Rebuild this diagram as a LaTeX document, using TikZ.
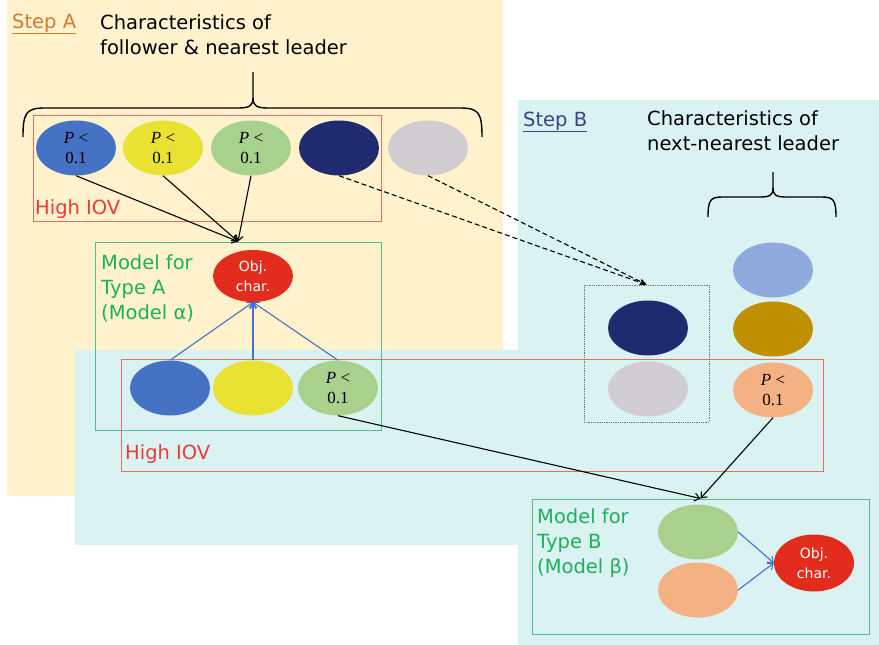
\documentclass[tikz,border=0pt]{standalone}
\usepackage{fontspec}
\setmainfont{Liberation Serif}
\newfontfamily\dv{DejaVu Sans}
\usetikzlibrary{shapes.geometric,arrows.meta}
\definecolor{peachbg}{RGB}{255,242,204}
\definecolor{cyanbg}{RGB}{218,243,242}
\definecolor{blueE}{RGB}{70,114,196}
\definecolor{yellowE}{RGB}{234,226,50}
\definecolor{greenE}{RGB}{169,209,142}
\definecolor{navyE}{RGB}{32,42,110}
\definecolor{grayE}{RGB}{208,206,208}
\definecolor{lblueE}{RGB}{143,170,220}
\definecolor{goldE}{RGB}{191,144,0}
\definecolor{orangeE}{RGB}{244,177,131}
\definecolor{redE}{RGB}{226,45,30}
\definecolor{redbox}{RGB}{240,105,95}
\definecolor{greenbox}{RGB}{80,190,145}
\definecolor{greentext}{RGB}{30,175,90}
\definecolor{iovtext}{RGB}{232,60,55}
\definecolor{stepAcol}{RGB}{215,120,45}
\definecolor{stepBcol}{RGB}{50,70,140}
\tikzset{
  ell/.style={ellipse, minimum width=80pt, minimum height=55pt, inner sep=0pt, draw=none, align=center,
    font=\fontsize{17}{20}\selectfont},
  objell/.style={ell, fill=redE, text=white, font=\dv\fontsize{14}{20}\selectfont},
  redframe/.style={draw=redbox, line width=1pt, inner sep=0pt},
  greenframe/.style={draw=greenbox, line width=1pt, inner sep=0pt},
  bigtext/.style={font=\dv\fontsize{19.5}{25}\selectfont, align=left, inner sep=0pt},
  blackarrow/.style={line width=1.1pt, -{Straight Barb[length=5pt,width=8pt]}},
  bluearrow/.style={draw=blueE, line width=1.1pt, -{Straight Barb[length=5pt,width=8pt]}},
  dasharrow/.style={line width=1.1pt, dash pattern=on 5pt off 3pt, -{Stealth[length=7pt,width=6pt]}},
  bracepath/.style={line width=1.4pt}
}
\begin{document}
\begin{tikzpicture}[x=1pt,y=-1pt]
\useasboundingbox (0,0) rectangle (879,645);
% backgrounds
\fill[peachbg] (7,0) rectangle (503,496);
\fill[cyanbg] (518,100) rectangle (879,645);
\fill[cyanbg] (75,350) rectangle (519,545);

% frames
\node[redframe, minimum width=348pt, minimum height=106pt] (iovA) at (207,168) {};
\node[greenframe, minimum width=286pt, minimum height=188pt] (boxA) at (238,336) {};
\node[redframe, minimum width=702pt, minimum height=112pt] (iovB) at (472,415) {};
\node[greenframe, minimum width=337pt, minimum height=135pt] (boxB) at (700.5,566.5) {};
\node[draw=black!55, line width=0.8pt, densely dotted, minimum width=125pt, minimum height=137pt, inner sep=0pt] (dbox) at (646.5,353.5) {};

% top row ellipses
\node[ell, fill=blueE] (a1) at (76,148) {\textit{P} <\\0.1};
\node[ell, fill=yellowE] (a2) at (163,148) {\textit{P} <\\0.1};
\node[ell, fill=greenE] (a3) at (251,148) {\textit{P} <\\0.1};
\node[ell, fill=navyE] (a4) at (339,148) {};
\node[ell, fill=grayE] (a5) at (428,148) {};

% model A
\node[objell, minimum height=52pt] (objA) at (253,276) {Obj.\\char.};
\node[ell, fill=blueE] (b1) at (170,388) {};
\node[ell, fill=yellowE] (b2) at (253,388) {};
\node[ell, fill=greenE] (b3) at (338,388) {\textit{P} <\\0.1};

% step B ellipses
\node[ell, fill=navyE] (d1) at (648,328) {};
\node[ell, fill=grayE] (d2) at (648,389) {};
\node[ell, fill=lblueE] (c1) at (773,270) {};
\node[ell, fill=goldE] (c2) at (773,329) {};
\node[ell, fill=orangeE] (c3) at (773,390) {\textit{P} <\\0.1};

% model B
\node[ell, fill=greenE] (gB) at (698,532) {};
\node[ell, fill=orangeE] (oB) at (698,590) {};
\node[objell, minimum height=57pt] (objB) at (814,563) {Obj.\\char.};

% arrows
\draw[blackarrow] (a1.south) -- (boxA.north);
\draw[blackarrow] (a2.south) -- (boxA.north);
\draw[blackarrow] (a3.south) -- (boxA.north);
\draw[dasharrow] (a4.south) -- (dbox.north);
\draw[dasharrow] (a5.south) -- (dbox.north);
\draw[bluearrow] (b1.north) -- (objA.south);
\draw[bluearrow] (b2.north) -- (objA.south);
\draw[bluearrow] (b3.north) -- (objA.south);
\draw[blackarrow] (b3.south) -- (boxB.north);
\draw[blackarrow] (c3.south) -- (boxB.north);
\draw[bluearrow] (gB.east) -- (objB.west);
\draw[bluearrow] (oB.east) -- (objB.west);

% braces
\draw[bracepath] (23,137) .. controls (23,113) and (26,108) .. (45,108) -- (238,108) .. controls (249,108) and (253,106) .. (253,98) -- (253,72);
\draw[bracepath] (482,137) .. controls (482,113) and (479,108) .. (460,108) -- (268,108) .. controls (257,108) and (253,106) .. (253,98);
\draw[bracepath] (708,217) .. controls (708,201) and (710,197) .. (722,197) -- (760,197) .. controls (770,197) and (773,195) .. (773,188) -- (773,172);
\draw[bracepath] (836,217) .. controls (836,201) and (834,197) .. (822,197) -- (786,197) .. controls (776,197) and (773,195) .. (773,188);

% texts
\node[bigtext, text=stepAcol, anchor=base west] (stepA) at (12,28) {\underline{Step A}};
\node[bigtext, anchor=north west] (charA) at (100,14) {Characteristics of\\follower \& nearest leader};
\node[bigtext, text=stepBcol, anchor=base west] (stepB) at (523,126) {\underline{Step B}};
\node[bigtext, anchor=north west] (charB) at (647,110) {Characteristics of\\next-nearest leader};
\node[bigtext, text=iovtext, anchor=base west] (iovAt) at (35,214) {High IOV};
\node[bigtext, text=iovtext, anchor=base west] (iovBt) at (125,459) {High IOV};
\node[bigtext, text=greentext, anchor=north west] (modA) at (101,254) {Model for\\Type A\\(Model α)};
\node[bigtext, text=greentext, anchor=north west] (modB) at (537,508) {Model for\\Type B\\(Model β)};
\end{tikzpicture}
\end{document}
